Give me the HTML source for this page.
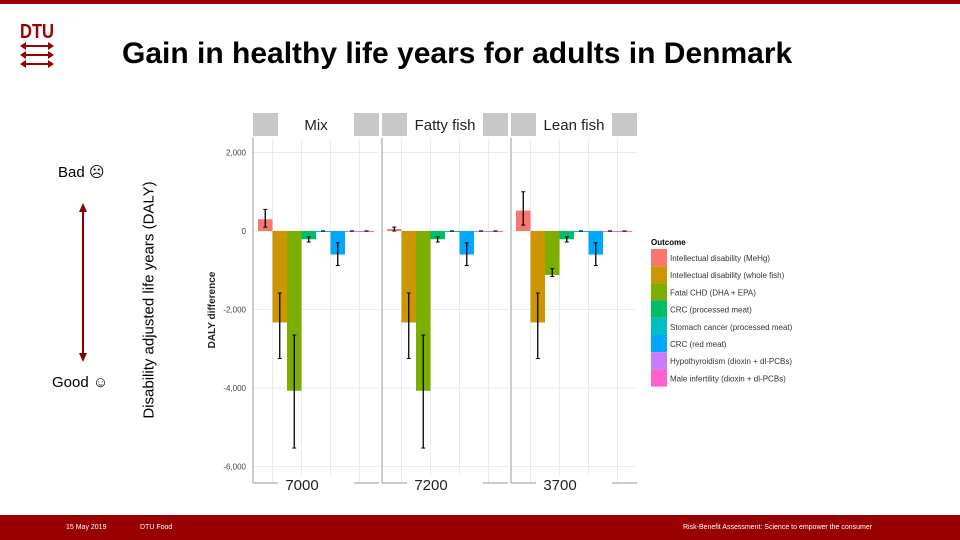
<!DOCTYPE html>
<html><head><meta charset="utf-8"><style>
body{margin:0;width:960px;height:540px;overflow:hidden;background:#fff;font-family:"Liberation Sans",sans-serif;position:relative}
.abs{position:absolute}
</style></head><body>
<div class="abs" style="left:0;top:0;width:960px;height:4px;background:#990000"></div>
<svg class="abs" style="left:18px;top:18px" width="38" height="50" viewBox="0 0 38 50">
<text x="19" y="20" text-anchor="middle" font-family="Liberation Sans" font-weight="bold" font-size="20" fill="#990000" textLength="34" lengthAdjust="spacingAndGlyphs">DTU</text>
<g fill="#990000"><polygon points="2,28 8,24 8,27 30,27 30,24 36,28 30,32 30,29 8,29 8,32"/><polygon points="2,37 8,33 8,36 30,36 30,33 36,37 30,41 30,38 8,38 8,41"/><polygon points="2,46 8,42 8,45 30,45 30,42 36,46 30,50 30,47 8,47 8,50"/></g></svg>
<div class="abs" style="left:122px;top:37px;font-size:30px;font-weight:bold;color:#000;white-space:nowrap">Gain in healthy life years for adults in Denmark</div>
<div class="abs" style="left:58px;top:163px;font-size:15px">Bad ☹</div>
<div class="abs" style="left:52px;top:374px;font-size:15px">Good ☺</div>
<svg class="abs" style="left:75px;top:200px" width="16" height="165"><line x1="8" y1="8" x2="8" y2="157" stroke="#8b0000" stroke-width="2"/><polygon points="8,3 4,12 12,12" fill="#8b0000"/><polygon points="8,162 4,153 12,153" fill="#8b0000"/></svg>
<div class="abs" style="left:149px;top:300px;transform:translate(-50%,-50%) rotate(-90deg);font-size:15px;white-space:nowrap">Disability adjusted life years (DALY)</div>
<svg id="chart" class="abs" style="left:0;top:0" width="960" height="540"></svg>
<div class="abs" style="left:0;top:515px;width:960px;height:25px;background:#990000;color:#fff;font-size:7px">
<span class="abs" style="left:66px;top:9px">15 May 2019</span>
<span class="abs" style="left:140px;top:9px">DTU Food</span>
<span class="abs" style="left:683px;top:9px">Risk-Benefit Assessment: Science to empower the consumer</span>
</div>
<script>
const panels=["Mix","Fatty fish","Lean fish"];
const totals=["7000","7200","3700"];
const outcomes=["Intellectual disability (MeHg)","Intellectual disability (whole fish)","Fatal CHD (DHA + EPA)","CRC (processed meat)","Stomach cancer (processed meat)","CRC (red meat)","Hypothyroidism (dioxin + dl-PCBs)","Male infertility (dioxin + dl-PCBs)"];
const colors=["#f8766d","#cd9600","#7cae00","#00be67","#00bfc4","#00a9ff","#c77cff","#ff61cc"];
const mixVals=[300,-2330,-4070,-210,0,-600,0,0];
const fattyVals=[50,-2330,-4070,-210,0,-600,0,0];
const leanVals=[520,-2330,-1120,-210,0,-600,0,0];
const mixLo=[100,-3250,-5530,-280,0,-880,0,0];
const mixHi=[550,-1580,-2650,-150,0,-300,0,0];
const fattyLo=[0,-3250,-5530,-280,0,-880,0,0];
const fattyHi=[100,-1580,-2650,-150,0,-300,0,0];
const leanLo=[150,-3250,-1160,-280,0,-880,0,0];
const leanHi=[1000,-1580,-960,-150,0,-300,0,0];
const yTicks=[2000,0,-2000,-4000,-6000];
const yTickLabels=["2,000","0","-2,000","-4,000","-6,000"];
const vals=[mixVals,fattyVals,leanVals],los=[mixLo,fattyLo,leanLo],his=[mixHi,fattyHi,leanHi];
const NS="http://www.w3.org/2000/svg";
const svg=document.getElementById('chart');
function y(v){return 231-v*0.03925;}
const pX=[253,382,511],pW=126,plotTop=138,plotBot=483;
function mk(t,a,p){const e=document.createElementNS(NS,t);for(const k in a)e.setAttribute(k,a[k]);(p||svg).appendChild(e);return e;}
function x(p,i){return pX[p]+5+i*14.5;}
panels.forEach((name,p)=>{
  const g=mk('g',{});
  
  
  yTicks.forEach(t=>mk('line',{x1:pX[p],x2:pX[p]+pW,y1:y(t),y2:y(t),stroke:'#ebebeb','stroke-width':1},g));
  [1,3,5,7].forEach(i=>mk('line',{x1:x(p,i),x2:x(p,i),y1:plotTop,y2:plotBot,stroke:'#ebebeb','stroke-width':1},g));
  mk('line',{x1:pX[p],x2:pX[p],y1:plotTop,y2:plotBot,stroke:'#999','stroke-width':1},g);
  mk('line',{x1:pX[p],x2:pX[p]+pW,y1:plotBot,y2:plotBot,stroke:'#999','stroke-width':1},g);
  const s=mk('rect',{x:pX[p],y:113,width:pW,height:23,fill:'#c8c8c8'},g);
  
  
  mk('rect',{x:pX[p]+25,y:113,width:pW-50,height:23,fill:'#fff'},g);
  const st=mk('text',{x:pX[p]+pW/2,y:130,'text-anchor':'middle','font-size':15,fill:'#222'},g);st.textContent=name;
  mk('rect',{x:pX[p]+25,y:476,width:pW-50,height:14,fill:'#fff'},g);
  const tt=mk('text',{x:pX[p]+49,y:490,'text-anchor':'middle','font-size':15,fill:'#222'},g);tt.textContent=totals[p];
  vals[p].forEach((v,i)=>{
    const b=mk('rect',{x:x(p,i),y:Math.min(y(v),y(0)),width:14.5,height:Math.max(Math.abs(y(v)-y(0)),1),fill:colors[i]},g);
    
    
    if(v===0){mk('line',{x1:x(p,i)+5,x2:x(p,i)+9,y1:y(0),y2:y(0),stroke:'#000','stroke-width':1.2},g);}
    else{const cx=x(p,i)+7.25;
      mk('line',{x1:cx,x2:cx,y1:y(his[p][i]),y2:y(los[p][i]),stroke:'#000','stroke-width':1.3},g);
      mk('line',{x1:cx-2,x2:cx+2,y1:y(his[p][i]),y2:y(his[p][i]),stroke:'#000','stroke-width':1},g);
      mk('line',{x1:cx-2,x2:cx+2,y1:y(los[p][i]),y2:y(los[p][i]),stroke:'#000','stroke-width':1},g);}
  });
});
yTicks.forEach((t,i)=>{const e=mk('text',{x:246,y:y(t)+3,'text-anchor':'end','font-size':8,fill:'#444'});e.textContent=yTickLabels[i];

});
const yt=mk('text',{x:0,y:0,transform:'translate(215,310) rotate(-90)','text-anchor':'middle','font-size':10,'font-weight':'bold',fill:'#222'});yt.textContent='DALY difference';


const lt=mk('text',{x:651,y:245,'font-size':8,'font-weight':'bold'});lt.textContent='Outcome';


outcomes.forEach((o,i)=>{const g=mk('g',{});


mk('rect',{x:651,y:249+i*17.2,width:16,height:17.2,fill:colors[i]},g);
const e=mk('text',{x:670,y:261+i*17.2,'font-size':8,fill:'#333'},g);e.textContent=o;});
</script>
</body></html>
